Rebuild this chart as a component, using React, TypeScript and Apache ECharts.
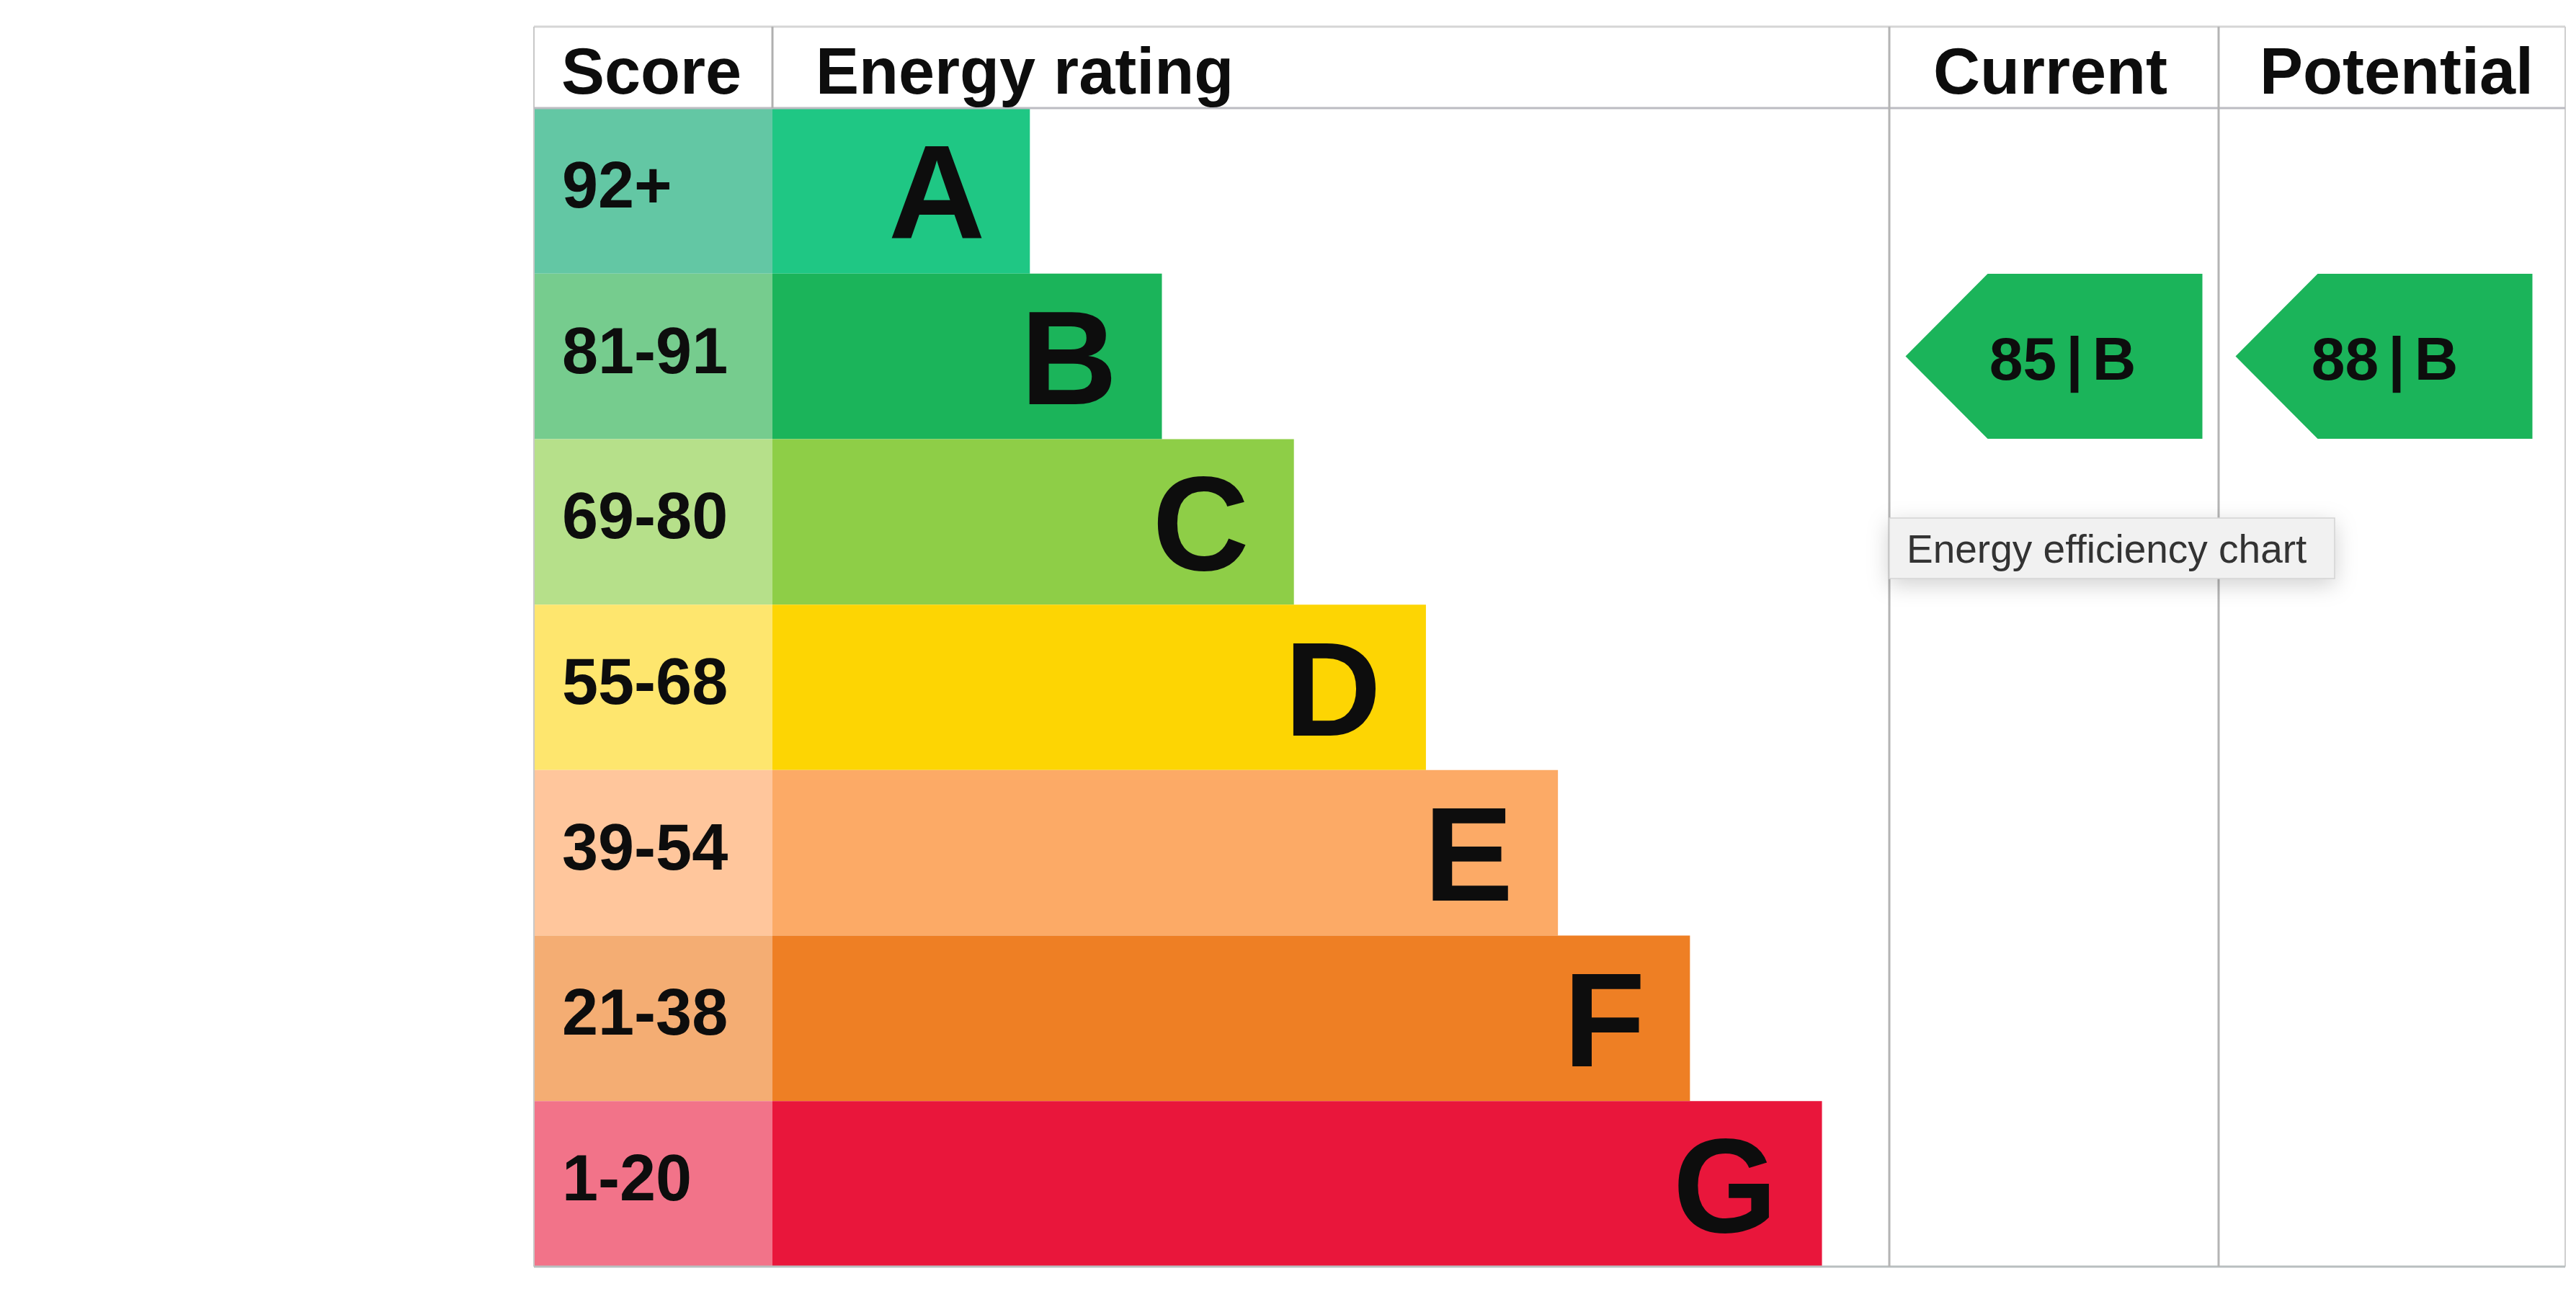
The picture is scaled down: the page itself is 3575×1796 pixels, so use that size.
import React, { useEffect, useRef } from "react";
import * as echarts from "echarts";

// ---- data ----
const ratings = ["A", "B", "C", "D", "E", "F", "G"];
const scoreRanges = ["92+", "81-91", "69-80", "55-68", "39-54", "21-38", "1-20"];
const bandMins = [92, 81, 69, 55, 39, 21, 1];
const barLengths = [39, 59, 79, 99, 119, 139, 159];
const scoreColors = ["#63C7A4", "#76CC8E", "#B6E08A", "#FEE66E", "#FFC69C", "#F4AD73", "#F27389"];
const barColors = ["#1FC784", "#1BB45A", "#8ECE47", "#FDD503", "#FCAA66", "#EE7F24", "#E9163B"];
const headers = ["Score", "Energy rating", "Current", "Potential"];
const currentScore = 85;
const potentialScore = 88;
const tooltipText = "Energy efficiency chart";

const bandOf = (s: number) => {
  for (let i = 0; i < bandMins.length; i++) if (s >= bandMins[i]) return i;
  return bandMins.length - 1;
};

// ---- layout ----
const L = 741, T = 37, R = 3560, B = 1758, H = 150;
const X1 = 1072, X2 = 2622, X3 = 3079;
const FONT = "'Liberation Sans', Arial, Helvetica, sans-serif";
const INK = "#0d0d0d";
const ARROW = "path://M0 50 L27.67 0 L100 0 L100 100 L27.67 100 Z";

export default function App() {
  const ref = useRef<HTMLDivElement>(null);
  useEffect(() => {
    if (!ref.current) return;
    const chart = echarts.init(ref.current, null, { renderer: "svg" });
    const gridTop = H, gridH = B - H;
    const yCat = (gi: number) => ({
      type: "category", gridIndex: gi, data: ratings, inverse: true, show: false,
    });
    const arrowSeries = (gi: number, score: number, dx: number) => {
      const b = bandOf(score);
      return {
        type: "scatter", xAxisIndex: gi, yAxisIndex: gi,
        data: [[0, b]],
        symbol: ARROW, symbolSize: [412, 229], symbolOffset: [dx, 0],
        itemStyle: { color: barColors[1] === barColors[b] ? barColors[b] : barColors[b], opacity: 1 },
        label: {
          show: true, position: "inside", offset: [dx + 12, 3],
          formatter: `{n|${score}}{p||}{n|${ratings[b]}}`,
          rich: {
            n: { fontSize: 84, fontWeight: "bold", fontFamily: FONT, color: INK },
            p: { fontSize: 84, fontWeight: "bold", fontFamily: FONT, color: INK, padding: [0, 13] },
          },
        },
        silent: true,
      };
    };
    chart.setOption({
      animation: false,
      backgroundColor: "#ffffff",
      grid: [
        { left: L, width: X1 - L, top: gridTop, height: gridH },
        { left: X1, width: X2 - X1, top: gridTop, height: gridH },
        { left: X2, width: X3 - X2, top: gridTop, height: gridH },
        { left: X3, width: R - X3, top: gridTop, height: gridH },
      ],
      xAxis: [
        { type: "value", gridIndex: 0, min: 0, max: 1, show: false },
        { type: "value", gridIndex: 1, min: 0, max: 169.2, show: false },
        { type: "category", gridIndex: 2, data: [headers[2]], show: false },
        { type: "category", gridIndex: 3, data: [headers[3]], show: false },
      ],
      yAxis: [yCat(0), yCat(1), yCat(2), yCat(3)],
      series: [
        {
          type: "bar", xAxisIndex: 0, yAxisIndex: 0, barWidth: "100%", barCategoryGap: "0%",
          data: scoreRanges.map((s, i) => ({ value: 1, itemStyle: { color: scoreColors[i] } })),
          label: {
            show: true, position: "insideLeft", distance: 39, offset: [0, -8],
            formatter: (p: any) => scoreRanges[p.dataIndex],
            fontSize: 90, fontWeight: "bold", fontFamily: FONT, color: INK,
          },
          silent: true,
        },
        {
          type: "bar", xAxisIndex: 1, yAxisIndex: 1, barWidth: "100%", barCategoryGap: "0%",
          data: barLengths.map((v, i) => ({ value: v, itemStyle: { color: barColors[i] } })),
          label: {
            show: true, position: "insideRight", distance: 62, offset: [0, 2],
            formatter: (p: any) => ratings[p.dataIndex],
            fontSize: 186, fontWeight: "bold", fontFamily: FONT, color: INK,
          },
          silent: true,
        },
        arrowSeries(2, currentScore, 0),
        arrowSeries(3, potentialScore, -11),
      ],
      graphic: [
        // table lines
        { type: "line", z: 100, shape: { x1: L, y1: T, x2: R, y2: T }, style: { stroke: "#d6d6d6", lineWidth: 3 } },
        { type: "line", z: 100, shape: { x1: L, y1: T, x2: L, y2: B }, style: { stroke: "#c8c8c8", lineWidth: 2 } },
        { type: "line", z: 100, shape: { x1: R, y1: T, x2: R, y2: B }, style: { stroke: "#cfcfcf", lineWidth: 2 } },
        { type: "line", z: 100, shape: { x1: L, y1: B, x2: R, y2: B }, style: { stroke: "#b9bfc0", lineWidth: 3 } },
        { type: "line", z: 100, shape: { x1: L, y1: H, x2: R, y2: H }, style: { stroke: "#bcbcc2", lineWidth: 3 } },
        { type: "line", z: 100, shape: { x1: X1, y1: T, x2: X1, y2: H }, style: { stroke: "#b0b0b0", lineWidth: 3 } },
        { type: "line", z: 100, shape: { x1: X2, y1: T, x2: X2, y2: B }, style: { stroke: "#b4b4b4", lineWidth: 3 } },
        { type: "line", z: 100, shape: { x1: X3, y1: T, x2: X3, y2: B }, style: { stroke: "#b4b4b4", lineWidth: 3 } },
        // headers
        { type: "text", z: 100, x: 779, y: 99, style: { text: headers[0], font: `bold 90px ${FONT}`, fill: INK, textVerticalAlign: "middle" } },
        { type: "text", z: 100, x: 1132, y: 99, style: { text: headers[1], font: `bold 90px ${FONT}`, fill: INK, textVerticalAlign: "middle" } },
        { type: "text", z: 100, x: 2683, y: 99, style: { text: headers[2], font: `bold 90px ${FONT}`, fill: INK, textVerticalAlign: "middle" } },
        { type: "text", z: 100, x: 3136, y: 99, style: { text: headers[3], font: `bold 90px ${FONT}`, fill: INK, textVerticalAlign: "middle" } },
        // hover tooltip box
        {
          type: "rect", z: 200, shape: { x: 2622, y: 719, width: 618, height: 84 },
          style: { fill: "#f1f1f1", stroke: "#d2d2d2", lineWidth: 1.5, shadowBlur: 30, shadowColor: "rgba(0,0,0,0.18)", shadowOffsetY: 8 },
        },
        { type: "text", z: 201, x: 2646, y: 762, style: { text: tooltipText, font: `55px ${FONT}`, fill: "#333333", textVerticalAlign: "middle" } },
      ],
    });
    return () => chart.dispose();
  }, []);
  return (
    <div
      ref={ref}
      style={{ position: "fixed", left: 0, top: 0, width: 3575, height: 1796, background: "#ffffff" }}
    />
  );
}
